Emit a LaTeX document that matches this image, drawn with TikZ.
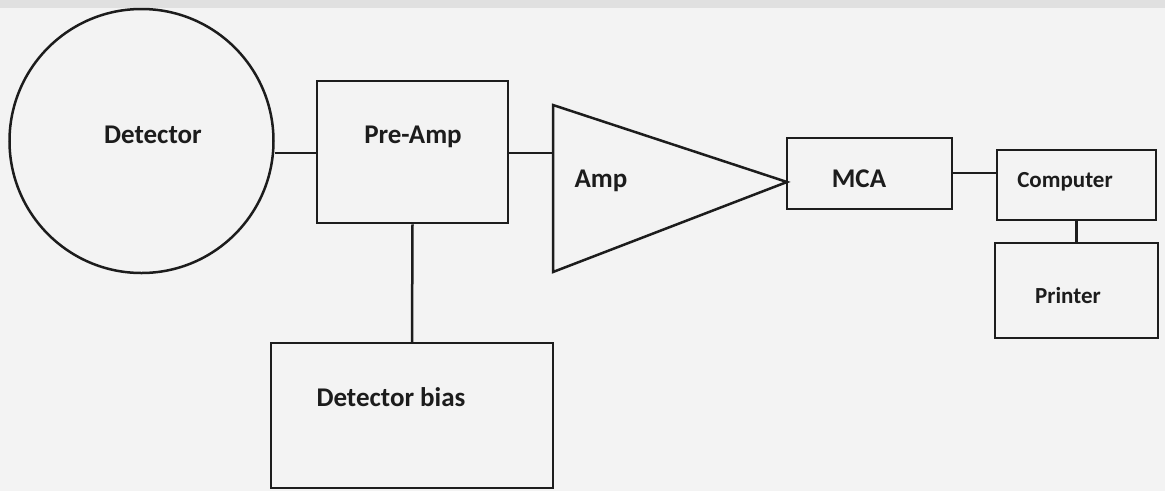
\documentclass[tikz,border=0pt]{standalone}
\usepackage{fontspec}
\setmainfont{Carlito}
\definecolor{paper}{HTML}{F3F3F3}
\definecolor{ink}{HTML}{1C1C1C}
\tikzset{
  box/.style={draw=ink, line width=2.5pt, rectangle, inner sep=0pt, anchor=center},
  lbl/.style={text=ink, inner sep=0pt, anchor=base, font=\fontsize{27}{32}\selectfont\bfseries},
  slbl/.style={lbl, font=\fontsize{23}{28}\selectfont\bfseries},
  wire/.style={draw=ink, line width=2.5pt}
}
\begin{document}
\begin{tikzpicture}[x=1pt,y=-1pt]
\fill[paper] (0,0) rectangle (1165,491);
\fill[black!12] (0,0) rectangle (1165,8);
\useasboundingbox (0,0) rectangle (1165,491);
% shapes
\node[draw=ink, line width=2.5pt, circle, inner sep=0pt, minimum size=264pt] (det) at (141.5,141) {};
\node[box, minimum width=191pt, minimum height=142pt] (pre) at (412.5,152) {};
\node[box, minimum width=282pt, minimum height=145pt] (bias) at (412,415.5) {};
\node[box, minimum width=165pt, minimum height=71pt] (mca) at (869.5,173.5) {};
\node[box, minimum width=159pt, minimum height=70pt] (comp) at (1076.5,185) {};
\node[box, minimum width=163pt, minimum height=95pt] (prn) at (1076.5,290.5) {};
\coordinate (ampTL) at (553,105);
\coordinate (ampBL) at (553,272);
\coordinate (ampTip) at (787,182);
\draw[wire, line join=miter] (ampTL) -- (ampTip) -- (ampBL) -- cycle;
% labels
\node[lbl] (tdet) at (153,143) {Detector};
\node[lbl] (tpre) at (413,143) {Pre-Amp};
\node[lbl] (tamp) at (601,187) {Amp};
\node[lbl] (tmca) at (859,187) {MCA};
\node[slbl] (tcomp) at (1065,187) {Computer};
\node[slbl] (tprn) at (1068,303) {Printer};
\node[lbl] (tbias) at (391,406) {Detector bias};
% connectors
\draw[wire] (det.east |- 0,153) -- (pre.west |- 0,153);
\draw[wire] (pre.east |- 0,153) -- (ampTL |- 0,153);
\draw[wire] (pre.south) -- (bias.north);
\draw[wire] (mca.east |- 0,173) -- (comp.west |- 0,173);
\draw[wire] (comp.south) -- (prn.north);
\end{tikzpicture}
\end{document}
